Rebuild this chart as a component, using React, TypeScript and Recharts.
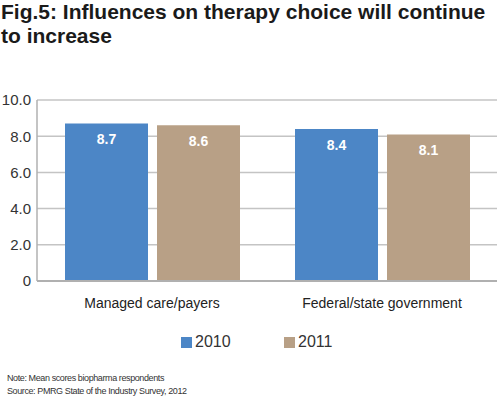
import React from 'react';
import { BarChart, Bar, XAxis, YAxis, CartesianGrid, LabelList } from 'recharts';

const categories = ['Managed care/payers', 'Federal/state government'];
const values2010 = [8.7, 8.4];
const values2011 = [8.6, 8.1];
const yTicks = [0, 2, 4, 6, 8, 10];

const BLUE = '#4c86c6';
const TAN = '#b8a086';
const FONT = '"Liberation Sans", Arial, sans-serif';

const chartData = categories.map((name, i) => ({
  name,
  y2010: values2010[i],
  y2011: values2011[i],
}));

const App: React.FC = () => {
  return (
    <div
      style={{
        position: 'absolute',
        top: 0,
        left: 0,
        width: 500,
        height: 396,
        background: '#fff',
        fontFamily: FONT,
        color: '#222',
        overflow: 'hidden',
      }}
    >
      <div
        style={{
          position: 'absolute',
          top: 0,
          left: 1,
          fontSize: 21,
          fontWeight: 'bold',
          lineHeight: '24px',
          color: '#1a1a1a',
          whiteSpace: 'nowrap',
        }}
      >
        Fig.5: Influences on therapy choice will continue
        <br />
        to increase
      </div>

      <div style={{ position: 'absolute', top: 0, left: 0 }}>
        <BarChart
          width={500}
          height={396}
          data={chartData}
          margin={{ top: 100, right: 3, left: 0, bottom: 85 }}
          barCategoryGap={28}
          barGap={9}
        >
          <CartesianGrid vertical={false} stroke="#c4c4c4" strokeWidth={1.5} />
          <YAxis
            width={37}
            domain={[0, 10]}
            ticks={yTicks}
            interval={0}
            axisLine={{ stroke: '#b0b0b0', strokeWidth: 1.5 }}
            tickLine={false}
            tickSize={0}
            tickMargin={6}
            tickFormatter={(v: number) => (v === 0 ? '0' : v.toFixed(1))}
            tick={{ fill: '#333', fontSize: 15, fontFamily: FONT }}
          />
          <XAxis
            dataKey="name"
            height={30}
            axisLine={{ stroke: '#b0b0b0', strokeWidth: 2 }}
            tickLine={false}
            tickMargin={11}
            tick={{ fill: '#222', fontSize: 14, fontFamily: FONT }}
          />
          <Bar dataKey="y2010" fill={BLUE} isAnimationActive={false}>
            <LabelList
              dataKey="y2010"
              position="insideTop"
              offset={11}
              fill="#fff"
              fontSize={14}
              fontWeight="bold"
              fontFamily={FONT}
            />
          </Bar>
          <Bar dataKey="y2011" fill={TAN} isAnimationActive={false}>
            <LabelList
              dataKey="y2011"
              position="insideTop"
              offset={11}
              fill="#fff"
              fontSize={14}
              fontWeight="bold"
              fontFamily={FONT}
            />
          </Bar>
        </BarChart>
      </div>

      <div style={{ position: 'absolute', top: 333, left: 181, display: 'flex', alignItems: 'center', fontSize: 16, color: '#333' }}>
        <span style={{ display: 'inline-block', width: 11, height: 11, background: BLUE, marginRight: 3 }} />
        <span>2010</span>
      </div>
      <div style={{ position: 'absolute', top: 333, left: 284, display: 'flex', alignItems: 'center', fontSize: 16, color: '#333' }}>
        <span style={{ display: 'inline-block', width: 11, height: 11, background: TAN, marginRight: 3 }} />
        <span>2011</span>
      </div>

      <div
        style={{
          position: 'absolute',
          top: 372,
          left: 7,
          fontSize: 9,
          letterSpacing: -0.4,
          lineHeight: '13px',
          color: '#333',
        }}
      >
        Note: Mean scores biopharma respondents
        <br />
        Source: PMRG State of the Industry Survey, 2012
      </div>
    </div>
  );
};

export default App;
